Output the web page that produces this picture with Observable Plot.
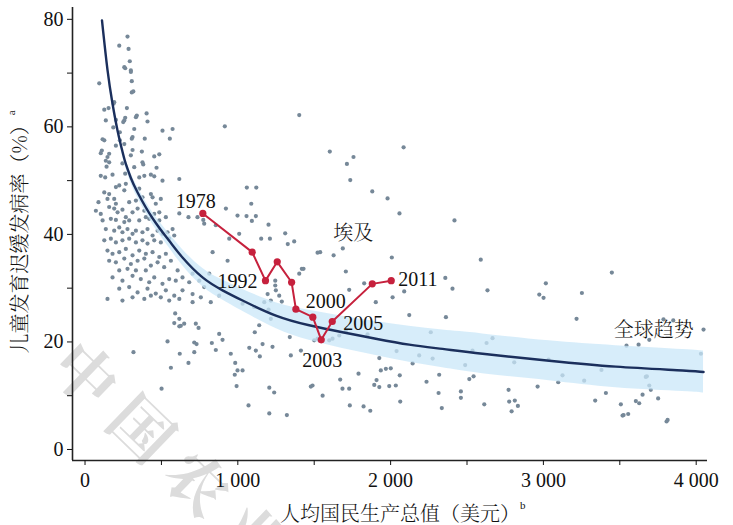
<!DOCTYPE html>
<html><head><meta charset="utf-8">
<script src="https://cdn.jsdelivr.net/npm/d3@7"></script>
<script src="https://cdn.jsdelivr.net/npm/@observablehq/plot@0.6"></script>
<style>html,body{margin:0;padding:0;background:#fff;overflow:hidden}</style>
</head><body><div id="chart"></div>
<script>
// Country observations: GNI per capita (USD) and child stunting prevalence (%)
const gdp = [
278,224,285,293,257,263,300,300,306,93,306,316,191,187,126,154,274,339,333,403,263,257,250,136,202,409,185,322,507,573,915,228,311,306,391,555,115,126,228,202,257,311,372,110,103,158,147,136,300,453,486,376,381,245,322,468,141,158,
103,132,180,263,355,388,431,453,507,617,126,158,202,224,267,257,355,431,442,376,88,147,191,202,289,333,496,463,71,103,158,191,213,245,267,311,344,388,398,453,486,115,169,202,257,289,355,420,486,529,617,677,736,774,780,856,922,998,1009,944,933,835,
136,191,224,245,278,311,333,376,409,442,475,507,540,573,584,126,169,202,245,289,333,376,409,453,496,551,147,180,224,267,311,355,398,442,486,529,158,202,257,300,344,388,431,475,518,562,606,224,278,333,398,180,245,311,365,420,453,507,551,594,638,682,704,748,813,224,289,344,409,463,529,584,638,704,780,147,245,311,388,431,496,551,617,704,758,823,878,
590,617,584,627,649,617,725,743,878,900,540,715,730,830,317,620,715,856,954,677,983,562,998,980,501,992,
1402,1602,1757,1714,2085,1736,1880,1980,2058,2418,1059,1121,1088,1057,1118,1092,1201,1153,1210,1310,1327,1369,1522,1539,1627,1687,2008,2590,
1419,1430,1402,1707,1827,1729,1903,2013,2089,2358,2405,2122,2362,2263,2536,2039,2187,2275,2144,1926,2488,2318,2515,2543,1936,1969,2001,1790,1670,1908,1893,1926,1991,2034,2235,1489,1478,1685,1729,1206,1238,1555,2314,2460,2460,2063,1733,1823,1867,2335,1070,1206,1321,1031,1107,1140,1111,1075,1118,1144,1031,1162,1227,1271,1216,1173,1201,1288,1340,1413,1347,1500,1522,1598,1620,1664,1849,1707,1245,1245,1249,1195,1216,
3448,3016,2973,3001,2634,3252,3217,3786,3850,4048,2667,2628,3544,3623,3693,4031,2809,3034,3380,3677,3670,3125,3097,3267,2962,3693,3703,2772,3409,3649,3751,3605,3627,3339,2776,2813,2833,2613,3507,2792,3525,3555,3518,3813,3806,2060
];
const stunting = [
76.8,75.1,74.5,72.2,71.1,70.9,70.5,70.2,68.5,68.1,66.4,66.6,64.6,64.3,63.2,63.5,63.5,62.1,61.8,62.5,61.7,61.2,60.9,61.2,61.3,61.0,59.9,59.6,59.3,59.6,60.1,59.0,58.1,57.8,57.8,57.8,57.7,57.5,57.5,56.5,56.8,55.7,55.4,55.6,55.1,55.0,54.4,53.7,54.7,54.5,54.9,53.4,53.0,53.2,52.5,52.4,52.6,53.4,
50.9,50.6,51.1,51.3,50.6,50.9,51.1,50.8,50.0,50.3,47.8,47.5,48.8,49.1,49.4,48.2,48.5,47.5,46.9,46.9,46.0,46.6,46.6,45.7,46.0,46.3,46.6,45.7,44.4,43.8,45.1,44.8,44.1,44.6,43.2,44.1,44.8,44.4,43.2,43.8,44.1,42.6,42.9,42.7,42.3,42.6,42.6,42.9,42.6,43.2,43.9,43.2,43.2,42.7,42.0,41.7,44.8,43.5,40.1,39.2,35.1,36.7,
41.0,40.7,41.3,40.4,41.0,40.1,40.7,40.4,41.0,39.8,40.7,40.1,40.4,41.0,39.8,38.9,39.2,38.5,38.9,39.2,38.5,38.9,38.3,38.9,38.5,39.2,37.0,36.4,36.7,37.3,36.1,37.0,36.4,36.7,35.8,36.4,35.1,34.8,35.5,34.5,35.1,35.5,34.2,34.8,33.9,35.1,33.3,33.3,33.6,33.3,33.3,32.0,31.4,32.3,31.7,31.1,32.0,30.8,31.7,31.4,32.0,31.1,32.7,31.4,32.7,29.9,30.2,29.2,29.9,29.0,29.6,28.6,29.6,28.9,30.2,28.0,27.7,28.3,28.0,28.6,28.3,27.7,28.0,27.4,28.3,27.4,28.6,
25.3,24.3,23.5,23.0,23.4,22.9,23.4,22.6,21.5,20.4,20.1,19.9,19.6,19.8,18.1,17.8,18.1,18.5,17.8,16.1,16.1,15.2,14.7,13.9,11.3,11.8,
62.2,55.4,54.4,53.1,56.2,50.1,48.0,46.7,43.9,42.6,48.7,48.7,45.7,43.4,43.4,42.5,41.8,39.2,39.2,40.2,38.2,38.7,36.6,36.7,36.1,37.4,35.7,35.3,
33.6,33.6,32.7,33.1,30.9,29.7,27.4,28.3,29.4,31.9,29.9,25.0,24.6,21.8,18.4,18.3,17.5,16.9,16.0,17.0,15.7,13.9,13.1,13.6,14.7,15.0,15.1,14.1,13.0,12.9,12.0,11.6,11.8,11.9,12.6,11.9,11.7,11.3,11.3,11.5,10.6,10.0,10.5,10.8,9.6,8.9,8.2,8.0,7.2,7.7,8.2,6.7,6.4,27.1,26.5,23.1,21.8,18.9,18.4,17.3,14.7,19.6,19.1,28.6,24.3,27.4,26.0,27.5,20.9,18.4,17.5,20.3,20.6,20.3,20.6,21.2,21.4,22.1,31.4,30.5,29.6,28.9,27.7,
32.9,30.9,28.8,28.2,29.6,29.1,24.3,24.2,24.0,22.3,20.7,19.8,19.3,19.5,20.4,17.8,16.2,16.7,14.8,13.6,13.5,13.8,12.5,12.8,11.7,11.9,11.1,11.1,10.5,10.2,9.5,9.0,8.6,9.1,8.9,9.1,8.1,8.4,8.4,7.1,6.4,6.6,6.3,5.5,5.2,13.8
];

// Global trend (fitted curve) and its confidence band
const trendGdp   = [111,147,180,213,245,267,300,344,442,551,638,769,900,1031,1249,1467,1685,1903,2122,2340,2602,3038,3474,3911,4048];
const trendValue = [79.8,70.6,64.3,59.3,55.4,53.1,50.5,47.8,43.0,38.8,35.7,32.0,29.6,27.7,24.9,23.1,21.8,20.6,19.5,18.7,17.8,16.5,15.4,14.7,14.4];
const trendLow   = [79.4,70.1,63.7,58.6,54.6,52.3,49.6,46.8,41.9,37.5,34.2,30.3,27.8,25.7,22.5,20.3,18.8,17.5,16.2,15.2,14.1,12.8,11.5,10.8,10.5];
const trendHigh  = [80.2,71.1,64.9,60.0,56.2,53.9,51.4,48.8,44.1,40.1,37.2,33.7,31.5,29.8,27.3,25.9,24.8,23.8,22.9,22.2,21.5,20.2,19.3,18.6,18.3];

// Egypt trajectory
const egyptYear     = [1978,1988,1992,1995,1997,1998,2000,2003,2005,2008,2011];
const egyptGdp      = [771,1094,1181,1258,1352,1380,1491,1546,1618,1880,2004];
const egyptStunting = [43.9,36.7,31.4,34.9,31.1,26.1,24.6,20.4,23.8,30.8,31.4];

// Annotations
const annText = ["埃及","全球趋势"];
const annGdp  = [1755,3723];
const annVal  = [40.1,22.2];

// Axes
const xTicks = [0,1000,2000,3000,4000];
const xMinor = [500,1500,2500,3500];
const yTicks = [0,20,40,60,80];
const yMinor = [10,30,50,70];

const points = gdp.map((g,i)=>({gdp:g, stunting:stunting[i]}));
const trend = trendGdp.map((g,i)=>({gdp:g, value:trendValue[i], low:trendLow[i], high:trendHigh[i]}));
const egypt = egyptYear.map((y,i)=>({year:y, label:String(y), gdp:egyptGdp[i], stunting:egyptStunting[i]}));
const ann = annText.map((t,i)=>({text:t, gdp:annGdp[i], value:annVal[i]}));

const serif = "'Liberation Serif','Noto Serif CJK SC','Noto Sans CJK SC',serif";
const cjk = "'Noto Serif CJK SC','Noto Sans CJK SC',sans-serif";
const red = "#c6213d";
const xMin = -82, xMax = 4074, yMin = -2.05, yMax = 82.2;

const lab = (year, dx, dy, anchor) => Plot.text(egypt, {
  filter: d => d.year === year, x: "gdp", y: "stunting", text: "label",
  dx, dy, textAnchor: anchor, fill: "#111", fontSize: 20
});

const fmt = v => v === 0 ? "0" : `${v/1000} 000`;

const svg = Plot.plot({
  width: 733, height: 525,
  marginLeft: 72, marginRight: 26, marginTop: 7, marginBottom: 65,
  style: {fontFamily: serif, fontSize: "20px", background: "#fff", color: "#111"},
  x: {domain: [xMin, xMax]},
  y: {domain: [yMin, yMax]},
  marks: [
    Plot.dot(points, {x: "gdp", y: "stunting", r: 2.1, fill: "#768898", stroke: "none"}),
    Plot.areaY(trend, {x: "gdp", y1: "low", y2: "high", fill: "#c9e7f8", fillOpacity: 0.75, curve: "natural"}),
    Plot.line(trend, {x: "gdp", y: "value", stroke: "#1b2f5c", strokeWidth: 2.4, curve: "natural"}),
    Plot.line(egypt, {x: "gdp", y: "stunting", stroke: red, strokeWidth: 2}),
    Plot.dot(egypt, {x: "gdp", y: "stunting", r: 3.6, fill: red}),
    lab(1978, -7, -12, "middle"),
    lab(1992, -8, 1, "end"),
    lab(2000, -7, -16, "start"),
    lab(2003, 1, 21, "middle"),
    lab(2005, 11, 2, "start"),
    lab(2011, 7, -1, "start"),
    Plot.text(ann, {x: "gdp", y: "value", text: "text", fontSize: 20, fill: "#111", fontFamily: cjk, fontWeight: 300}),
    Plot.ruleX([xMin], {stroke: "#222", strokeWidth: 1.6}),
    Plot.ruleY([yMin], {stroke: "#222", strokeWidth: 1.6}),
    Plot.axisY({ticks: yTicks, tickSize: 5, tickPadding: 4, label: null, fontSize: 20}),
    Plot.axisY({ticks: yMinor, tickSize: 5, tickFormat: () => "", label: null}),
    Plot.axisX({ticks: xTicks, tickSize: 5, tickPadding: 7, tickFormat: fmt, label: null, fontSize: 20}),
    Plot.axisX({ticks: xMinor, tickSize: 5, tickFormat: () => "", label: null})
  ]
});

const s = d3.select(svg);
// watermark behind everything
const wm = s.insert("g", ":first-child").attr("transform", "translate(88,372) rotate(44)");
wm.append("text").attr("x", -31).attr("text-anchor", "start").attr("dominant-baseline", "central")
  .attr("font-family", cjk).attr("font-size", 62).attr("font-weight", 700)
  .attr("letter-spacing", 16).attr("fill", "#dcdcdc").text("中国农业科学");

// axis titles
const yl = s.append("text").attr("transform", "translate(18,232) rotate(-90)")
  .attr("text-anchor", "middle").attr("dominant-baseline", "central")
  .attr("font-family", cjk).attr("font-size", 20).attr("font-weight", 300).attr("fill", "#111");
yl.append("tspan").text("儿童发育迟缓发病率（%）");
yl.append("tspan").attr("font-size", 11).attr("dy", -7).attr("font-family", serif).text("a");

const xl = s.append("text").attr("x", 280).attr("y", 512)
  .attr("text-anchor", "start").attr("dominant-baseline", "central")
  .attr("font-family", cjk).attr("font-size", 20).attr("font-weight", 300).attr("fill", "#111");
xl.append("tspan").text("人均国民生产总值（美元）");
xl.append("tspan").attr("font-size", 11).attr("dy", -7).attr("font-family", serif).text("b");

document.getElementById("chart").appendChild(svg);
</script>
</body></html>
